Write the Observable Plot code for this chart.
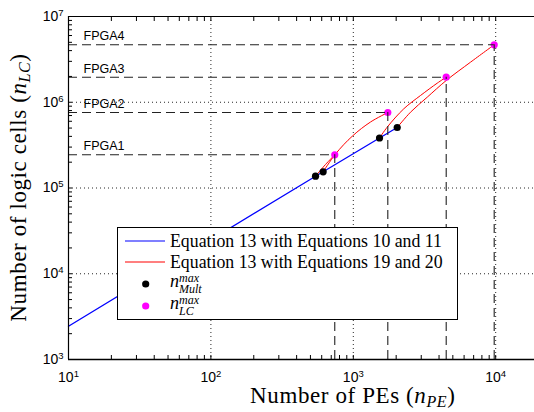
<!DOCTYPE html>
<html><head><meta charset="utf-8">
<script src="https://cdn.jsdelivr.net/npm/d3@7"></script>
<script src="https://cdn.jsdelivr.net/npm/@observablehq/plot@0.6"></script>
<style>
html,body{margin:0;padding:0;background:#fff;overflow:hidden;}
</style></head><body><div id="chart"></div>
<script>
// ---- data ----
const fpgaNames = ["FPGA1", "FPGA2", "FPGA3", "FPGA4"];
const fpgaPE = [741, 1747, 4492, 9760];            // n_LC^max : number of PEs
const fpgaLC = [243800, 759300, 1960000, 4677000];  // n_LC^max : logic cells
const multPE = [543, 614, 1528, 2034];             // n_Mult^max
const multLC = [137300, 154500, 383000, 507600];
// Equation 13 with Equations 10 and 11 (blue)
const blueX = [10, 543, 614, 1528, 2034];
const blueY = [2445, 137300, 154500, 383000, 507600];
// Equation 13 with Equations 19 and 20 (red), one curve per FPGA
const red1X = [543, 638, 741];
const red1Y = [137300, 188000, 243800];
const red2X = [614, 750, 987, 1321, 1747];
const red2Y = [154500, 249200, 404000, 588400, 759300];
const red3X = [1528, 1730, 2262, 2965, 3882, 4492];
const red3Y = [383000, 512000, 838600, 1199000, 1668000, 1960000];
const red4X = [2034, 2522, 3304, 4492, 6653, 9760];
const red4Y = [507600, 765600, 1145000, 1793000, 2931000, 4677000];
const xMajor = [10, 100, 1000, 10000, 100000];
const xLabelTicks = [10, 100, 1000, 10000];
const yMajor = [1e3, 1e4, 1e5, 1e6, 1e7];

// ---- tables built from the arrays ----
const fpga = fpgaNames.map((name, i) => ({name, pe: fpgaPE[i], lc: fpgaLC[i]}));
const mult = multPE.map((pe, i) => ({pe, lc: multLC[i]}));
const blue = blueX.map((x, i) => ({x, y: blueY[i]}));
const reds = [[red1X, red1Y], [red2X, red2Y], [red3X, red3Y], [red4X, red4Y]]
  .flatMap(([xs, ys], k) => xs.map((x, i) => ({k, x, y: ys[i]})));
const minor = (majors) => majors.slice(0, -1).flatMap(m => d3.range(1, 10).map(j => m * j)).concat([majors[majors.length - 1]]);
const xTicks = minor(xMajor);
const yTicks = minor(yMajor);

const SERIF = "'Liberation Serif', 'Times New Roman', serif";
const SANS = "'Liberation Sans', Arial, sans-serif";
const dash = "9,5";

const plot = Plot.plot({
  width: 534, height: 412,
  marginLeft: 68, marginTop: 16, marginBottom: 53, marginRight: 0,
  x: {type: "log", domain: [10, 1e5], range: [68, 68 + 4 * 142.4]},
  y: {type: "log", domain: [1e3, 1e7], range: [359, 16]},
  style: {background: "white", overflow: "hidden", fontFamily: SANS, fontSize: "14px", color: "black"},
  marks: [
    Plot.gridX([100, 1000, 10000], {stroke: "#000", strokeOpacity: 0.85, strokeDasharray: "1,3"}),
    Plot.gridY([1e4, 1e5, 1e6], {stroke: "#000", strokeOpacity: 0.85, strokeDasharray: "1,3"}),
    Plot.line(blue, {x: "x", y: "y", stroke: "#0000ff", strokeWidth: 1.3}),
    Plot.line(reds, {x: "x", y: "y", z: "k", stroke: "#ff0000", strokeWidth: 1, curve: "catmull-rom"}),
    Plot.dot(mult, {x: "pe", y: "lc", r: 3.6, fill: "black"}),
    Plot.dot(fpga, {x: "pe", y: "lc", r: 3.6, fill: "#ff00ff"}),
    Plot.ruleY(fpga, {y: "lc", x1: 10, x2: "pe", stroke: "#222", strokeWidth: 1.1, strokeDasharray: dash}),
    Plot.ruleX(fpga, {x: "pe", y1: 1e3, y2: "lc", stroke: "#222", strokeWidth: 1.1, strokeDasharray: dash}),
    Plot.text(fpga, {x: 10, y: "lc", text: "name", dx: 15, dy: -8.5, textAnchor: "start", fontSize: 12.5, fontFamily: SANS}),
    // ticks (inward, MATLAB style)
    Plot.axisX({anchor: "bottom", ticks: xTicks, tickSize: -4, fill: "none", label: null}),
    Plot.axisX({anchor: "top", ticks: xTicks, tickSize: -4, fill: "none", label: null}),
    Plot.axisY({anchor: "left", ticks: yTicks, tickSize: -4, fill: "none", label: null}),
    Plot.axisX({anchor: "bottom", ticks: xLabelTicks, tickSize: 0, tickPadding: 13, label: null,
      tickFormat: d => "10^" + Math.round(Math.log10(d))}),
    Plot.axisY({anchor: "left", ticks: yMajor, tickSize: 0, tickPadding: 5, label: null,
      tickFormat: d => "10^" + Math.round(Math.log10(d))}),
    // frame lines
    Plot.ruleY([1e3], {strokeWidth: 1.3}),
    Plot.ruleY([1e7], {strokeWidth: 1}),
    Plot.ruleX([10], {strokeWidth: 1.2})
  ]
});
document.getElementById("chart").append(plot);

const svg = d3.select(plot);
// superscript exponents in tick labels
svg.selectAll('g[aria-label$="tick label"] text').each(function () {
  const m = this.textContent.match(/^10\^(-?\d+)$/);
  if (!m) return;
  const t = d3.select(this);
  t.text(null);
  t.append("tspan").text("10");
  t.append("tspan").attr("dy", "-0.55em").attr("font-size", "0.68em").text(m[1]);
});

const xs = plot.scale("x"), ys = plot.scale("y");
// axis titles
const titleSize = 23;
const xt = svg.append("text").attr("x", xs.apply(1000)).attr("y", 403)
  .attr("text-anchor", "middle").attr("font-family", SERIF).attr("font-size", titleSize)
  .attr("letter-spacing", 0.6).attr("fill", "black");
xt.append("tspan").text("Number of PEs (");
xt.append("tspan").attr("font-style", "italic").text("n");
xt.append("tspan").attr("font-style", "italic").attr("font-size", 16).attr("dy", 4).text("PE");
xt.append("tspan").attr("dy", -4).text(")");

const yt = svg.append("text").attr("transform", `translate(26,${ys.apply(1e5)}) rotate(-90)`)
  .attr("text-anchor", "middle").attr("font-family", SERIF).attr("font-size", titleSize)
  .attr("letter-spacing", 0.6).attr("fill", "black");
yt.append("tspan").text("Number of logic cells (");
yt.append("tspan").attr("font-style", "italic").text("n");
yt.append("tspan").attr("font-style", "italic").attr("font-size", 16).attr("dy", 4).text("LC");
yt.append("tspan").attr("dy", -4).text(")");

// legend (inside the axes, white box)
const lg = svg.append("g").attr("font-family", SERIF).attr("fill", "black").attr("text-anchor", "start");
lg.append("rect").attr("x", 117.5).attr("y", 227.5).attr("width", 340).attr("height", 92)
  .attr("fill", "white").attr("stroke", "black").attr("stroke-width", 1);
const legendLines = [
  {color: "#0000ff", y: 241, label: "Equation 13 with Equations 10 and 11"},
  {color: "#ff0000", y: 262, label: "Equation 13 with Equations 19 and 20"}
];
legendLines.forEach(d => {
  lg.append("line").attr("x1", 125).attr("x2", 165).attr("y1", d.y).attr("y2", d.y)
    .attr("stroke", d.color).attr("stroke-width", 1.2);
  lg.append("text").attr("x", 170).attr("y", d.y + 5.5).attr("font-size", 17.8).text(d.label);
});
const legendDots = [
  {color: "black", y: 284, sub: "Mult"},
  {color: "#ff00ff", y: 306, sub: "LC"}
];
legendDots.forEach(d => {
  lg.append("circle").attr("cx", 145.7).attr("cy", d.y).attr("r", 3.6).attr("fill", d.color);
  const t = lg.append("text").attr("x", 170).attr("y", d.y + 3).attr("font-style", "italic");
  t.append("tspan").attr("font-size", 18).text("n");
  t.append("tspan").attr("font-size", 12).attr("dy", -5.5).text("max");
  t.append("tspan").attr("font-size", 12).attr("x", 179).attr("dy", 11).text(d.sub);
});
</script>
</body></html>
